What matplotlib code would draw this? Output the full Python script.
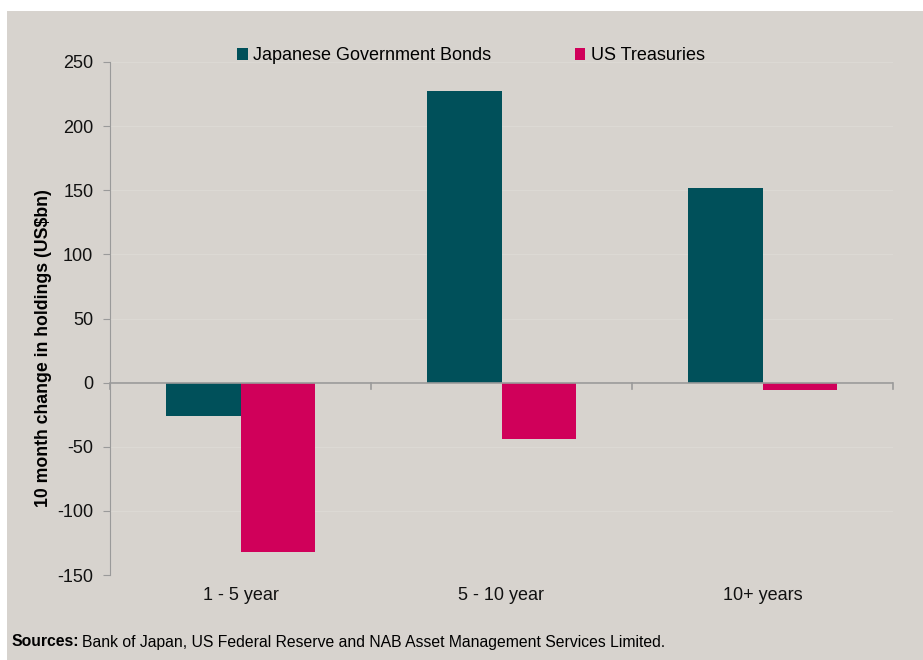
import matplotlib.pyplot as plt
import matplotlib.patches as mpatches
import numpy as np

plt.rcParams['font.family'] = ['Liberation Sans', 'DejaVu Sans']

categories = ['1 - 5 year', '5 - 10 year', '10+ years']
jgb = [-26, 227, 152]
ust = [-132, -44, -6]
yticks = [-150, -100, -50, 0, 50, 100, 150, 200, 250]

bg = '#d7d3ce'
teal = '#00505a'
pink = '#d0005a'
axis_col = '#9a9a9a'

fig = plt.figure(figsize=(9.23, 6.6), dpi=100)
fig.patch.set_facecolor('white')
# grey panel (white margin at top and left)
fig.patches.append(mpatches.Rectangle((7 / 923, 0), 1, 1 - 11 / 660, transform=fig.transFigure,
                                      facecolor=bg, edgecolor='none', zorder=-10))

ax = fig.add_axes([110 / 923, 1 - 575 / 660, 783 / 923, 513 / 660])
ax.set_facecolor(bg)

x = np.arange(len(categories))
w = 0.287
ax.bar(x - w / 2, jgb, width=w, color=teal, label='Japanese Government Bonds', zorder=3)
ax.bar(x + w / 2, ust, width=w, color=pink, label='US Treasuries', zorder=3)

ax.set_xlim(-0.5, 2.5)
ax.set_ylim(-150, 250)
ax.set_yticks(yticks)
ax.set_yticklabels([str(v) for v in yticks], fontsize=13)
ax.yaxis.grid(True, color='#dcd9d4', linewidth=0.8, zorder=0)

for s in ['top', 'right', 'bottom']:
    ax.spines[s].set_visible(False)
ax.spines['left'].set_color(axis_col)
ax.axhline(0, color=axis_col, linewidth=1.2, zorder=4)

# x category ticks at the boundaries on the zero line
ax.set_xticks([])
for b in [-0.5, 0.5, 1.5, 2.5]:
    ax.plot([b, b], [0, -5], color=axis_col, linewidth=1.2, zorder=4, clip_on=False)
for i, c in enumerate(categories):
    ax.text(i, -166, c, ha='center', va='center', fontsize=13, color='#111111')

ax.tick_params(axis='y', length=5, pad=7, colors='#111111')
ax.tick_params(axis='y', color=axis_col)

ax.set_ylabel('10 month change in holdings (US$bn)', fontsize=12.7, fontweight='bold')
ax.yaxis.set_label_coords((52 - 110) / 783, 1 - (348 - 62) / 513)

leg = ax.legend(loc='upper center', bbox_to_anchor=(0.461, 1.06), ncol=2, frameon=False,
                fontsize=13, handlelength=0.6, handleheight=0.6, handletextpad=0.3,
                columnspacing=4.6)

t1 = fig.text(12 / 923, 1 - 642 / 660, 'Sources:', fontsize=11.3, fontweight='bold', va='center')
fig.canvas.draw()
bb = t1.get_window_extent()
fig.text((bb.x1 + 3) / 923, 1 - 642 / 660,
         'Bank of Japan, US Federal Reserve and NAB Asset Management Services Limited.',
         fontsize=11.3, va='center')

fig.savefig('out.png', dpi=100, facecolor=fig.get_facecolor())
